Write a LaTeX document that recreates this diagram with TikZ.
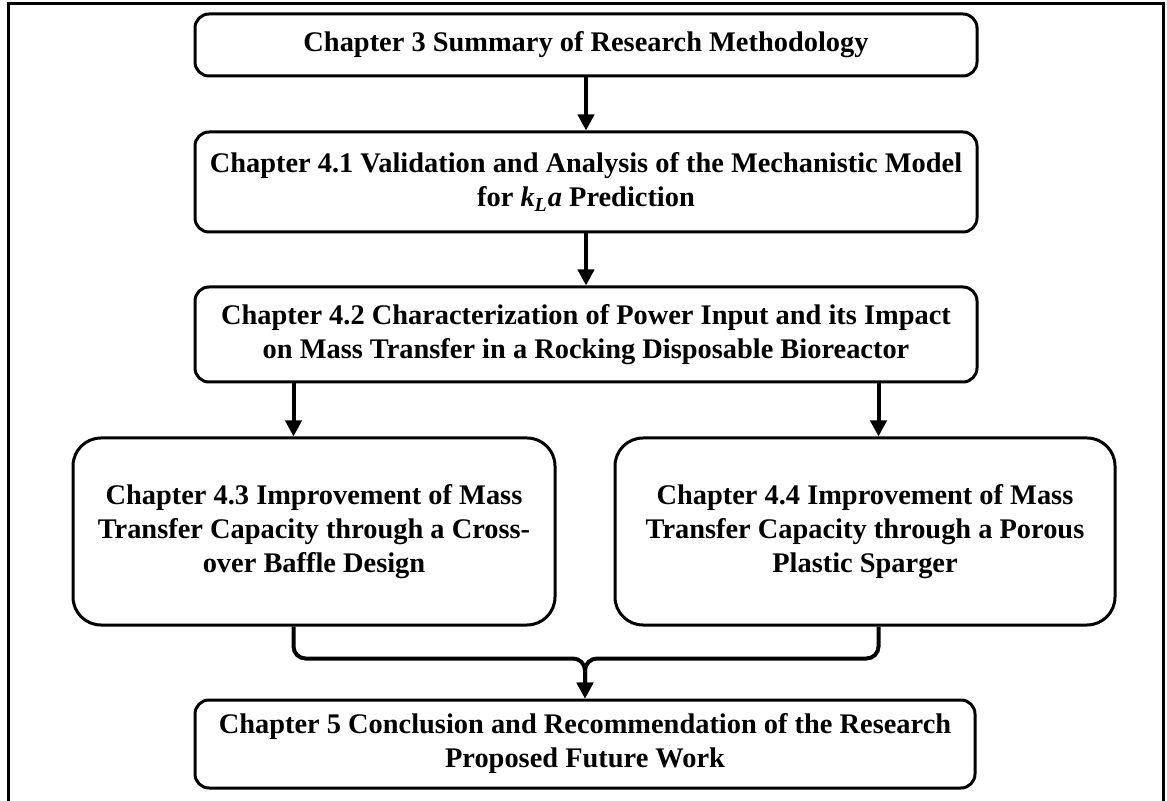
\documentclass[tikz,border=0pt]{standalone}
\usepackage{fontspec}
\setmainfont{Liberation Serif}
\usetikzlibrary{arrows.meta}

\begin{document}
\begin{tikzpicture}[x=0.5pt,y=-0.5pt,
    chap/.style={draw,line width=1.5pt,rounded corners=7pt,align=center,inner sep=2pt,
        font=\fontsize{14.2}{17}\selectfont\bfseries},
    bigchap/.style={chap,rounded corners=14pt},
    arr/.style={line width=2pt,-{Triangle[length=8pt,width=8pt]}},
    merge/.style={line width=2pt,rounded corners=6pt,-{Triangle[length=8pt,width=8pt]}}]

    \useasboundingbox (0,0) rectangle (1167,801);
    %frame
    \draw[line width=1.5pt] (8,810) |- (1163,4) -- (1163,810);

    %boxes
    \node[chap,minimum width=391pt,minimum height=31pt] (s1) at (586,45)
        {Chapter 3 Summary of Research Methodology};
    \node[chap,minimum width=391pt,minimum height=50pt] (s2) at (586,182)
        {Chapter 4.1 Validation and Analysis of the Mechanistic Model\\
         for \textit{k}\textsubscript{\textit{L}}\textit{a} Prediction};
    \node[chap,minimum width=391pt,minimum height=47.5pt] (s3) at (586,334.5)
        {Chapter 4.2 Characterization of Power Input and its Impact\\
         on Mass Transfer in a Rocking Disposable Bioreactor};
    \node[bigchap,minimum width=241pt,minimum height=93.5pt] (s43) at (314,531.5)
        {Chapter 4.3 Improvement of Mass\\
         Transfer Capacity through a Cross-\\
         over Baffle Design};
    \node[bigchap,minimum width=250pt,minimum height=93.5pt] (s44) at (865,531.5)
        {Chapter 4.4 Improvement of Mass\\
         Transfer Capacity through a Porous\\
         Plastic Sparger};
    \node[chap,minimum width=390pt,minimum height=44pt] (s5) at (585,744)
        {Chapter 5 Conclusion and Recommendation of the Research\\
         Proposed Future Work};

    %taps
    \coordinate (tl) at ([xshift=50pt]s3.south west);
    \coordinate (tr) at ([xshift=-50pt]s3.south east);
    \coordinate (j) at ([yshift=20pt]s5.north);

    %arrows
    \draw[arr] (s1.south) -- (s2.north);
    \draw[arr] (s2.south) -- (s3.north);
    \draw[arr] (tl) -- (tl |- s43.north);
    \draw[arr] (tr) -- (tr |- s44.north);
    \draw[merge] (tl |- s43.south) -- (tl |- j) -- (j) -- (s5.north);
    \draw[merge] (tr |- s44.south) -- (tr |- j) -- (j) -- (s5.north);

\end{tikzpicture}
\end{document}
